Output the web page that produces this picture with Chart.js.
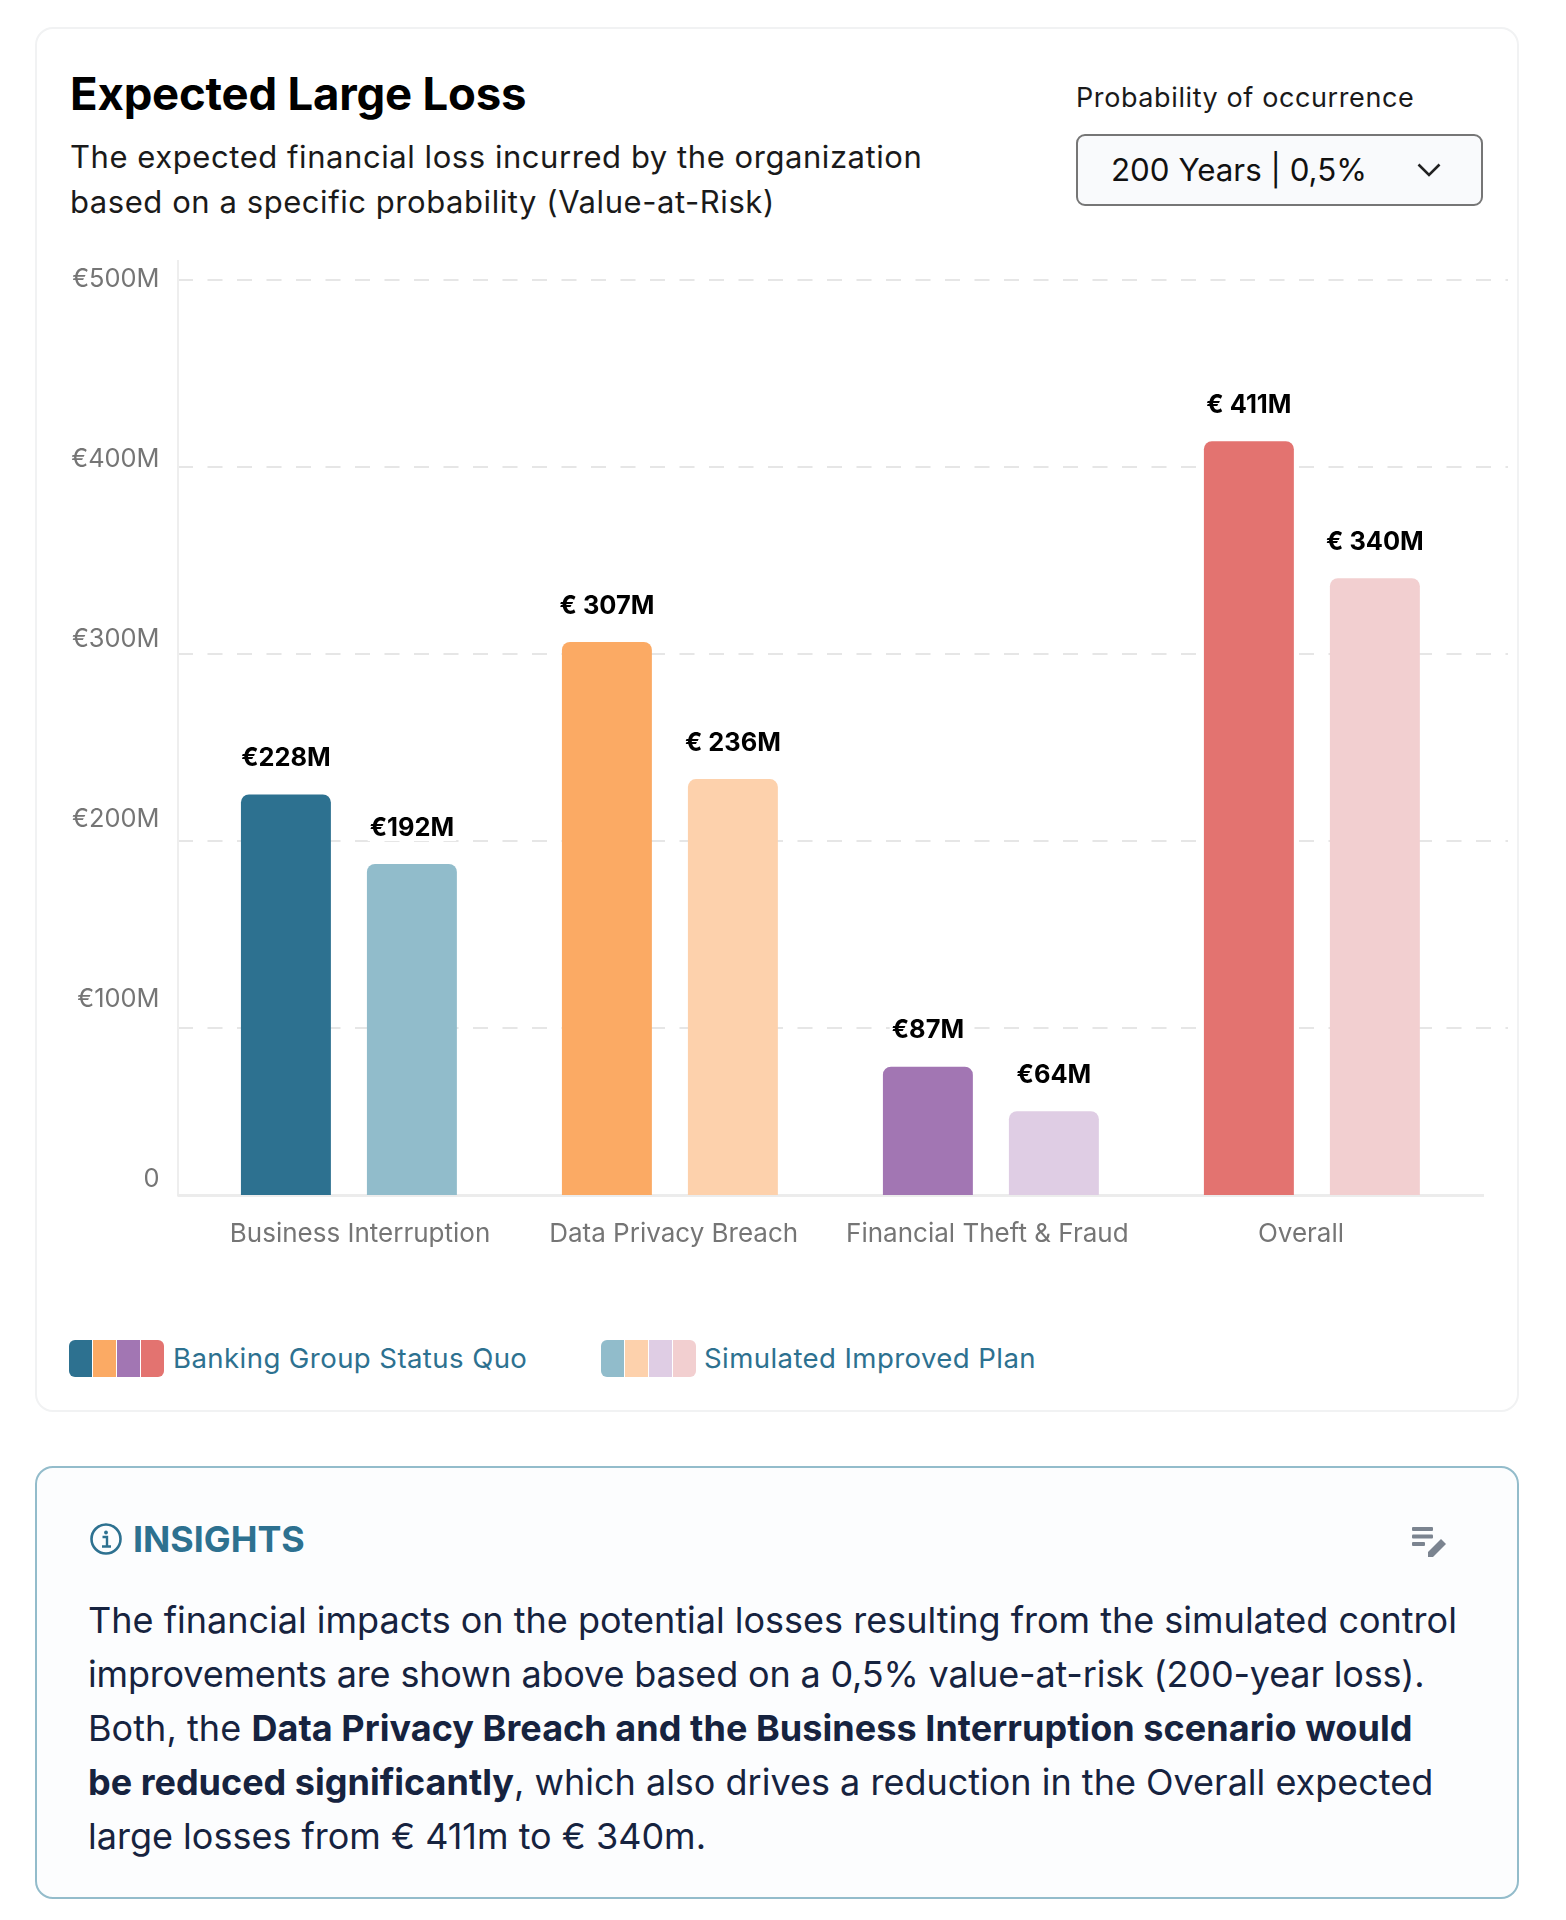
<!DOCTYPE html>
<html>
<head>
<meta charset="utf-8">
<script src="https://cdn.jsdelivr.net/npm/chart.js@4"></script>
<style>
html,body{margin:0;padding:0;background:#fff;}
body{width:1566px;height:1920px;position:relative;overflow:hidden;font-family:Inter,"Noto Sans",sans-serif;}
.abs{position:absolute;white-space:nowrap;}
#card1{left:35px;top:27px;width:1480px;height:1381px;border:2px solid #f1f2f3;border-radius:18px;box-sizing:content-box;}
#card2{left:35px;top:1466px;width:1480px;height:429px;border:2px solid #93bccb;border-radius:18px;background:#fcfdfe;}
#title{left:70px;top:64px;line-height:60px;font-size:45.5px;font-weight:700;color:#000;letter-spacing:-0.2px;}
.sub{left:70px;font-size:31px;line-height:44px;color:#1a1a1a;letter-spacing:0.56px;}
#problabel{left:1076px;top:78px;line-height:40px;font-size:27px;color:#1a1a1a;letter-spacing:0.6px;}
#select{left:1076px;top:134px;width:407px;height:72px;box-sizing:border-box;border:2px solid #767676;border-radius:9px;background:#f9fafc;}
#selecttext{left:1111px;top:146px;line-height:48px;font-size:31.3px;color:#111;}
#chart{position:absolute;left:40px;top:260px;}
.swatch{position:absolute;top:1340px;height:37px;display:flex;border-radius:6px;overflow:hidden;gap:1px;background:#fff;}
.swatch i{display:block;width:23px;height:37px;}
.legendtext{top:1338px;line-height:40px;font-size:27.6px;color:#2d7190;letter-spacing:0.4px;}
#insights{left:133px;top:1514px;line-height:50px;font-size:35.8px;font-weight:700;color:#2d7190;}
.body{left:88px;font-size:36px;line-height:54px;color:#16233f;}
.body b{font-weight:700;}
</style>
</head>
<body>
<div class="abs" id="card1"></div>
<div class="abs" id="card2"></div>
<div class="abs" id="title">Expected Large Loss</div>
<div class="abs sub" style="top:135px">The expected financial loss incurred by the organization</div>
<div class="abs sub" style="top:180px">based on a specific probability (Value-at-Risk)</div>
<div class="abs" id="problabel">Probability of occurrence</div>
<div class="abs" id="select"></div>
<div class="abs" id="selecttext">200 Years | 0,5%</div>
<svg class="abs" style="left:1416px;top:162px" width="26" height="16" viewBox="0 0 26 16"><path d="M2.5 2.5 L13 13 L23.5 2.5" fill="none" stroke="#222" stroke-width="2.6"/></svg>
<canvas id="chart" width="1468" height="1000"></canvas>
<div class="swatch" id="sw1" style="left:69px"></div>
<div class="abs legendtext" id="lg1" style="left:173px"></div>
<div class="swatch" id="sw2" style="left:601px"></div>
<div class="abs legendtext" id="lg2" style="left:704px"></div>
<svg class="abs" style="left:89px;top:1522px" width="34" height="34" viewBox="0 0 34 34"><circle cx="17" cy="17" r="14.5" fill="none" stroke="#2d7190" stroke-width="2.6"/><circle cx="17" cy="10.5" r="1.9" fill="#2d7190"/><path d="M13.5 15 H18 V24 M13 24.5 H22" fill="none" stroke="#2d7190" stroke-width="2.4"/></svg>
<div class="abs" id="insights">INSIGHTS</div>
<svg class="abs" style="left:1410px;top:1525px" width="40" height="34" viewBox="0 0 40 34"><g fill="#7b8490"><rect x="2" y="2" width="21" height="4" rx="1"/><rect x="2" y="9.5" width="21" height="4" rx="1"/><rect x="2" y="17" width="13" height="4" rx="1"/><path d="M18 27 L31 14 L36 19 L23 32 L18 32 Z"/></g></svg>
<div class="abs body" style="top:1593px">The financial impacts on the potential losses resulting from the simulated control</div>
<div class="abs body" style="top:1647px;letter-spacing:-0.17px">improvements are shown above based on a 0,5% value-at-risk (200-year loss).</div>
<div class="abs body" style="top:1701px;letter-spacing:0.05px">Both, the <b>Data Privacy Breach and the Business Interruption scenario would</b></div>
<div class="abs body" style="top:1755px"><b>be reduced significantly</b>, which also drives a reduction in the Overall expected</div>
<div class="abs body" style="top:1809px">large losses from € 411m to € 340m.</div>
<script>
const categories = ["Business Interruption", "Data Privacy Breach", "Financial Theft & Fraud", "Overall"];
const seriesNames = ["Banking Group Status Quo", "Simulated Improved Plan"];
const statusQuo = [228, 307, 87, 411];
const improvedPlan = [192, 236, 64, 340];
const statusQuoLabels = ["€228M", "€ 307M", "€87M", "€ 411M"];
const improvedPlanLabels = ["€192M", "€ 236M", "€64M", "€ 340M"];
const statusQuoColors = ["#2d7190", "#fbaa64", "#a276b3", "#e37370"];
const improvedPlanColors = ["#91bccb", "#fdd1ac", "#dfcde4", "#f2cfd0"];
const yTicks = [0, 100, 200, 300, 400, 500];
const yTickLabels = ["0", "€100M", "€200M", "€300M", "€400M", "€500M"];

function fillSwatch(id, colors){
  const el = document.getElementById(id);
  colors.forEach(c => { const i = document.createElement('i'); i.style.background = c; el.appendChild(i); });
}
fillSwatch('sw1', statusQuoColors);
fillSwatch('sw2', improvedPlanColors);
document.getElementById('lg1').textContent = seriesNames[0];
document.getElementById('lg2').textContent = seriesNames[1];

const FONT = 'Inter';
const TICK_COLOR = '#757575';

const barLabels = {
  id: 'barLabels',
  afterDatasetsDraw(chart){
    const {ctx} = chart;
    ctx.save();
    ctx.font = '700 25.4px ' + FONT;
    ctx.textAlign = 'center';
    ctx.textBaseline = 'middle';
    chart.data.datasets.forEach((ds, d) => {
      chart.getDatasetMeta(d).data.forEach((bar, i) => {
        const text = ds.valueLabels[i];
        const w = ctx.measureText(text).width;
        const yy = bar.y - 36;
        ctx.fillStyle = '#fff';
        ctx.fillRect(bar.x - w/2 - 2, yy - 13, w + 4, 26);
        ctx.fillStyle = '#000';
        ctx.fillText(text, bar.x, yy);
      });
    });
    ctx.restore();
  }
};

const baseline = {
  id: 'baseline',
  beforeDatasetsDraw(chart){
    const {ctx, chartArea} = chart;
    ctx.save();
    ctx.strokeStyle = '#ececec';
    ctx.lineWidth = 3;
    ctx.beginPath();
    ctx.moveTo(chartArea.left, chartArea.bottom + 0.5);
    ctx.lineTo(chartArea.right - 24, chartArea.bottom + 0.5);
    ctx.stroke();
    ctx.restore();
  }
};

const noPad = s => { s.paddingTop = 0; s.paddingBottom = 0; s.paddingLeft = 0; s.paddingRight = 0; };

new Chart(document.getElementById('chart'), {
  type: 'bar',
  data: {
    datasets: [
      { label: seriesNames[0], data: categories.map((c, i) => ({x: i, y: statusQuo[i]})), backgroundColor: statusQuoColors, valueLabels: statusQuoLabels },
      { label: seriesNames[1], data: categories.map((c, i) => ({x: i, y: improvedPlan[i]})), backgroundColor: improvedPlanColors, valueLabels: improvedPlanLabels }
    ]
  },
  plugins: [baseline, barLabels],
  options: {
    responsive: false,
    animation: false,
    layout: {padding: 0},
    plugins: {legend: {display: false}, tooltip: {enabled: false}},
    datasets: {bar: {categoryPercentage: 0.785, barPercentage: 0.714, borderRadius: {topLeft: 8, topRight: 8, bottomLeft: 0, bottomRight: 0}, borderSkipped: false}},
    scales: {
      x: {
        type: 'linear', display: false, offset: false, min: -0.534, max: 3.611,
        afterBuildTicks: s => { s.ticks = categories.map((c, i) => ({value: i})); }
      },
      xLabels: {
        type: 'linear', position: 'bottom', offset: false, min: -0.582, max: 3.66,
        afterBuildTicks: s => { s.ticks = categories.map((c, i) => ({value: i})); },
        afterFit: s => { s.height = 65; noPad(s); },
        grid: {display: false, drawTicks: false},
        border: {display: false},
        ticks: {autoSkip: false, maxRotation: 0, padding: 24, color: TICK_COLOR, font: {family: FONT, size: 26}, callback: v => categories[v]}
      },
      y: {type: 'linear', display: false, min: 20.6, max: 504.8},
      yGrid: {
        type: 'linear', position: 'left', min: 10.7, max: 510.7,
        afterBuildTicks: s => { s.ticks = yTicks.filter(v => v > 0).map(v => ({value: v})); },
        afterFit: s => { s.width = 0; noPad(s); },
        grid: {color: '#e6e6e6', lineWidth: 2, drawTicks: false},
        border: {display: false, dash: [15, 14.5]},
        ticks: {display: false}
      },
      yLabels: {
        type: 'linear', position: 'left', min: -8.73, max: 510.67,
        afterBuildTicks: s => { s.ticks = yTicks.map(v => ({value: v})); },
        afterFit: s => { s.width = 137.5; noPad(s); },
        grid: {display: false, drawTicks: false},
        border: {display: true, color: '#eeeeee', width: 2},
        ticks: {padding: 18, color: TICK_COLOR, font: {family: FONT, size: 25.4}, callback: v => yTickLabels[yTicks.indexOf(v)]}
      }
    }
  }
});
</script>
</body>
</html>
